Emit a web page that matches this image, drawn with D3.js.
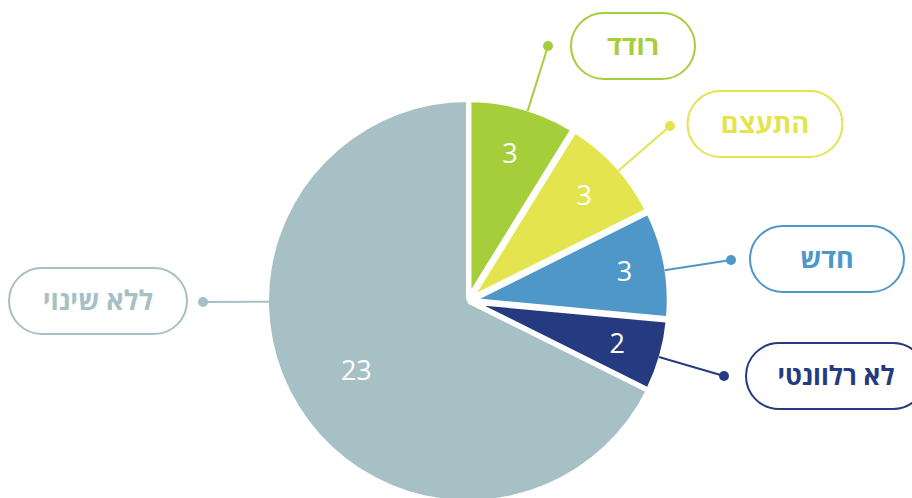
<!DOCTYPE html>
<html><head><meta charset="utf-8">
<script src="https://cdn.jsdelivr.net/npm/d3@7"></script>
<style>
html,body{margin:0;padding:0;background:#fff;}
svg{display:block;}
</style></head>
<body>
<svg id="chart" width="912" height="498"></svg>
<script>
// ---- data ----
const categories = ["רודד", "התעצם", "חדש", "לא רלוונטי", "ללא שינוי"];
const values = [3, 3, 3, 2, 23];

// ---- styles / layout (not data) ----
const colors = ["#a5ce3a", "#e3e44e", "#4f97c8", "#263a80", "#a7c0c5"];
const labelRadiusFactor = [0.77, 0.79, 0.80, 0.78, 0.66];
// callout pills: center x, center y, width; dot position
const callouts = [
  {cx: 633, cy: 46,  w: 124, fs: 27, dot: [548, 46]},
  {cx: 765, cy: 124, w: 155, fs: 27, dot: [670, 126]},
  {cx: 827, cy: 259, w: 154, fs: 27, dot: [731, 260]},
  {cx: 836, cy: 376, w: 180, fs: 26, dot: [724, 376]},
  {cx: 98,  cy: 301, w: 178, fs: 27, dot: [203, 302]}
];
const pillH = 66;
const cx = 468, cy = 301, R = 199;

const svg = d3.select("#chart");
const g = svg.append("g").attr("transform", `translate(${cx},${cy})`);

const data = categories.map((c, i) => ({cat: c, value: values[i], i}));
const pie = d3.pie().value(d => d.value).sort(null);
const arcs = pie(data);
const arc = d3.arc().innerRadius(0).outerRadius(R);
const color = d3.scaleOrdinal().domain(categories).range(colors);

// draw the large slice first without stroke, then the small slices with white stroke
const order = arcs.slice().sort((a, b) => (b.data.value > 10) - (a.data.value > 10));
g.selectAll("path.slice")
  .data(order)
  .join("path")
  .attr("class", "slice")
  .attr("d", arc)
  .attr("fill", d => color(d.data.cat))
  .attr("stroke", d => d.data.value > 10 ? "none" : "#fff")
  .attr("stroke-width", 5.5)
  .attr("stroke-linejoin", "round")
  .attr("transform", d => {
    if (d.data.value > 10) return null;
    const a = (d.startAngle + d.endAngle) / 2;
    return `translate(${2.5 * Math.sin(a)},${-2.5 * Math.cos(a)})`;
  });

// value labels
g.selectAll("text.val")
  .data(arcs)
  .join("text")
  .attr("class", "val")
  .attr("transform", d => {
    const r = R * labelRadiusFactor[d.data.i];
    const c = d3.arc().innerRadius(r).outerRadius(r).centroid(d);
    return `translate(${c[0]},${c[1]})`;
  })
  .attr("text-anchor", "middle")
  .attr("dy", "0.36em")
  .attr("fill", "#fff")
  .attr("font-family", "'Open Sans', 'Noto Sans', sans-serif")
  .attr("font-weight", 400)
  .attr("font-size", 27)
  .text(d => d.data.value);

// callouts
const co = svg.append("g");
arcs.forEach(d => {
  const i = d.data.i;
  const c = callouts[i];
  const col = color(d.data.cat);
  const dx = c.dot[0] - cx, dy = c.dot[1] - cy;
  const len = Math.hypot(dx, dy);
  const ax = cx + R * dx / len, ay = cy + R * dy / len;
  co.append("line")
    .attr("x1", ax).attr("y1", ay)
    .attr("x2", c.dot[0]).attr("y2", c.dot[1])
    .attr("stroke", col).attr("stroke-width", 2);
  co.append("circle")
    .attr("cx", c.dot[0]).attr("cy", c.dot[1]).attr("r", 5)
    .attr("fill", col);
  co.append("rect")
    .attr("x", c.cx - c.w / 2).attr("y", c.cy - pillH / 2)
    .attr("width", c.w).attr("height", pillH)
    .attr("rx", pillH / 2).attr("ry", pillH / 2)
    .attr("fill", "#fff").attr("stroke", col).attr("stroke-width", 2);
  co.append("text")
    .attr("x", c.cx).attr("y", c.cy)
    .attr("dy", "0.35em")
    .attr("text-anchor", "middle")
    .attr("fill", col)
    .attr("font-family", "'Open Sans', 'Liberation Sans', 'DejaVu Sans', sans-serif")
    .attr("font-weight", 700)
    .attr("font-size", c.fs)
    .text(d.data.cat);
});
</script>
</body></html>
